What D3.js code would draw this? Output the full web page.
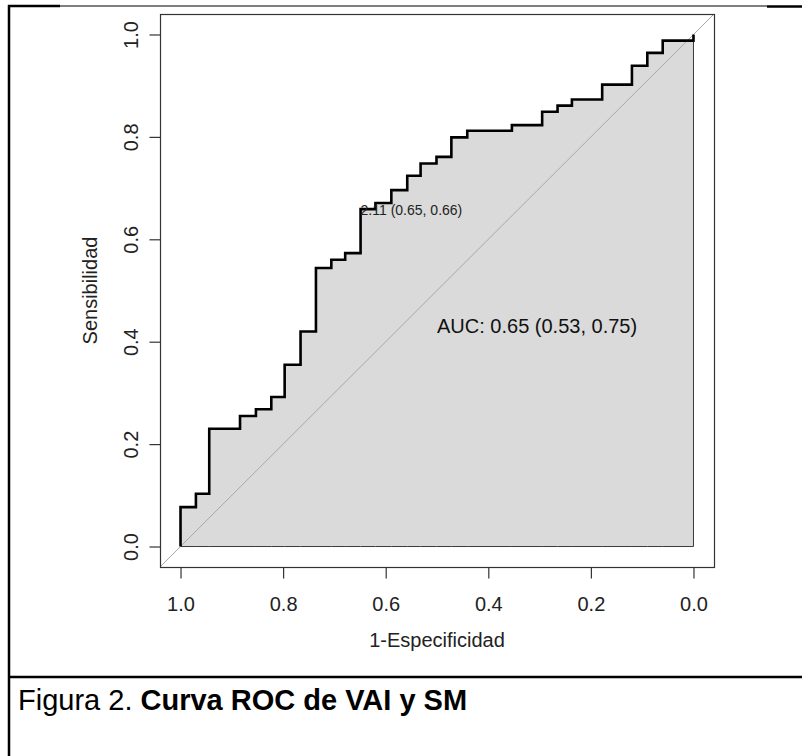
<!DOCTYPE html>
<html>
<head>
<meta charset="utf-8">
<script src="https://cdn.jsdelivr.net/npm/d3@7"></script>
<style>
  body { margin: 0; background: #fff; }
  svg { display: block; font-family: "Liberation Sans", Arial, sans-serif; }
</style>
</head>
<body>
<svg id="chart" width="802" height="756"></svg>
<script>
// ROC curve points (specificity on the x axis, reversed)
var specificity = [1, 1, 0.970, 0.970, 0.944, 0.944, 0.884, 0.884, 0.853, 0.853, 0.823, 0.823,
  0.797, 0.797, 0.766, 0.766, 0.736, 0.736, 0.706, 0.706, 0.679, 0.679, 0.649, 0.649,
  0.620, 0.620, 0.589, 0.589, 0.558, 0.558, 0.532, 0.532, 0.501, 0.501, 0.472, 0.472,
  0.441, 0.441, 0.354, 0.354, 0.295, 0.295, 0.265, 0.265, 0.237, 0.237, 0.178, 0.178,
  0.120, 0.120, 0.090, 0.090, 0.060, 0.060, 0, 0];
var sensitivity = [0, 0.077, 0.077, 0.103, 0.103, 0.230, 0.230, 0.255, 0.255, 0.268, 0.268, 0.292,
  0.292, 0.355, 0.355, 0.420, 0.420, 0.544, 0.544, 0.560, 0.560, 0.573, 0.573, 0.659,
  0.659, 0.671, 0.671, 0.696, 0.696, 0.724, 0.724, 0.748, 0.748, 0.761, 0.761, 0.799,
  0.799, 0.812, 0.812, 0.823, 0.823, 0.849, 0.849, 0.861, 0.861, 0.873, 0.873, 0.902,
  0.902, 0.939, 0.939, 0.964, 0.964, 0.988, 0.988, 1];

var tickValues = [1.0, 0.8, 0.6, 0.4, 0.2, 0.0];

// best threshold and AUC
var bestThreshold = [2.11];
var bestPoint = [0.649, 0.659];
var aucValues = [0.65, 0.53, 0.75];

var svg = d3.select('#chart');

// plot box (R adds 4% on each side)
var box = {left: 160, right: 714, top: 14, bottom: 567};
var x = d3.scaleLinear().domain([1.04, -0.04]).range([box.left, box.right]);
var y = d3.scaleLinear().domain([-0.04, 1.04]).range([box.bottom, box.top]);

var points = specificity.map(function (s, i) { return [s, sensitivity[i]]; });

// outer table lines of the document
svg.append('line').attr('x1', 9).attr('x2', 9).attr('y1', 5).attr('y2', 756)
  .attr('stroke', '#000').attr('stroke-width', 2.5);
svg.append('line').attr('x1', 8).attr('x2', 60).attr('y1', 6).attr('y2', 6)
  .attr('stroke', '#000').attr('stroke-width', 2.5);
svg.append('line').attr('x1', 60).attr('x2', 767).attr('y1', 6).attr('y2', 6)
  .attr('stroke', '#000').attr('stroke-width', 1);
svg.append('line').attr('x1', 767).attr('x2', 802).attr('y1', 6.5).attr('y2', 6.5)
  .attr('stroke', '#000').attr('stroke-width', 2.5);
svg.append('line').attr('x1', 8).attr('x2', 802).attr('y1', 677).attr('y2', 677)
  .attr('stroke', '#000').attr('stroke-width', 2.5);

// AUC polygon
var area = d3.area()
  .x(function (d) { return x(d[0]); })
  .y0(y(0))
  .y1(function (d) { return y(d[1]); });
svg.append('path')
  .datum(points)
  .attr('d', area)
  .attr('fill', '#dadada')
  .attr('stroke', '#3a3a3a')
  .attr('stroke-width', 1);

// identity line over the whole plot region
svg.append('line')
  .attr('x1', x(1.04)).attr('y1', y(-0.04))
  .attr('x2', x(-0.04)).attr('y2', y(1.04))
  .attr('stroke', '#a8a8a8')
  .attr('stroke-width', 1);

// ROC curve
var line = d3.line()
  .x(function (d) { return x(d[0]); })
  .y(function (d) { return y(d[1]); });
svg.append('path')
  .datum(points)
  .attr('d', line)
  .attr('fill', 'none')
  .attr('stroke', '#000')
  .attr('stroke-width', 2.6)
  .attr('stroke-linejoin', 'miter');

// box
svg.append('rect')
  .attr('x', box.left + 0.5).attr('y', box.top + 0.5)
  .attr('width', box.right - box.left).attr('height', box.bottom - box.top)
  .attr('fill', 'none').attr('stroke', '#333').attr('stroke-width', 1.2);

// axes
var xAxis = svg.append('g')
  .attr('transform', 'translate(0,' + (box.bottom + 0.5) + ')')
  .call(d3.axisBottom(x).tickValues(tickValues).tickFormat(d3.format('.1f')).tickSize(11).tickSizeOuter(0));
xAxis.select('.domain').remove();
xAxis.selectAll('line').attr('stroke', '#333').attr('stroke-width', 1.2);
xAxis.selectAll('text')
  .attr('y', 43).attr('dy', 0)
  .attr('fill', '#222')
  .style('font-size', '20px')
  .style('font-family', '"Liberation Sans", Arial, sans-serif');

var yAxis = svg.append('g')
  .attr('transform', 'translate(' + (box.left + 0.5) + ',0)')
  .call(d3.axisLeft(y).tickValues(tickValues).tickFormat(d3.format('.1f')).tickSize(11).tickSizeOuter(0));
yAxis.select('.domain').remove();
yAxis.selectAll('line').attr('stroke', '#333').attr('stroke-width', 1.2);
yAxis.selectAll('text')
  .attr('transform', 'rotate(-90)')
  .attr('x', 0).attr('y', -23).attr('dy', 0)
  .attr('fill', '#222')
  .style('text-anchor', 'middle')
  .style('font-size', '20px')
  .style('font-family', '"Liberation Sans", Arial, sans-serif');

// axis titles
svg.append('text')
  .attr('x', x(0.5)).attr('y', 647)
  .attr('text-anchor', 'middle')
  .attr('fill', '#222')
  .style('font-size', '20px')
  .text('1-Especificidad');
svg.append('text')
  .attr('transform', 'translate(97,' + y(0.5) + ') rotate(-90)')
  .attr('text-anchor', 'middle')
  .attr('fill', '#222')
  .style('font-size', '20px')
  .text('Sensibilidad');

// threshold label
svg.append('text')
  .attr('x', x(bestPoint[0])).attr('y', y(bestPoint[1]) + 6)
  .attr('fill', '#222')
  .style('font-size', '14px')
  .text(bestThreshold[0].toFixed(2) + ' (' + bestPoint[0].toFixed(2) + ', ' + bestPoint[1].toFixed(2) + ')');

// AUC label
svg.append('text')
  .attr('x', x(0.5)).attr('y', 333)
  .attr('fill', '#111')
  .style('font-size', '20px')
  .text('AUC: ' + aucValues[0].toFixed(2) + ' (' + aucValues[1].toFixed(2) + ', ' + aucValues[2].toFixed(2) + ')');

// caption
var caption = svg.append('text')
  .attr('x', 18).attr('y', 710)
  .attr('fill', '#000')
  .style('font-size', '29px');
caption.append('tspan').text('Figura 2. ');
caption.append('tspan').style('font-weight', 'bold').text('Curva ROC de VAI y SM');
</script>
</body>
</html>
